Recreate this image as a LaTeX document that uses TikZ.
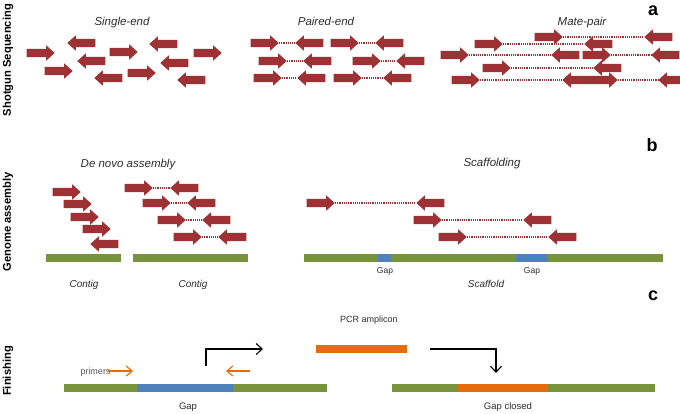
\documentclass[tikz,border=0pt]{standalone}
\usepackage{fontspec}
\setmainfont{Liberation Sans}
\usetikzlibrary{shapes.arrows,arrows.meta}
\definecolor{ared}{HTML}{9E3133}
\definecolor{bgreen}{HTML}{77933C}
\definecolor{bblue}{HTML}{4F81BD}
\definecolor{borange}{HTML}{E46C0A}
\definecolor{tgray}{HTML}{2E2E2E}
\begin{document}
\begin{tikzpicture}[x=1pt,y=-1pt,
  fwd/.style={single arrow, fill=ared, draw=none, minimum height=28pt, minimum width=15pt,
    inner xsep=0pt, inner ysep=4pt, single arrow head extend=3.5pt,
    single arrow tip angle=84, anchor=tip},
  rev/.style={fwd, shape border rotate=180},
  dotline/.style={ared, line width=1.2pt, dash pattern=on 1.2pt off 1pt},
  capt/.style={font=\itshape\fontsize{11.5}{13}\selectfont, text=tgray, inner sep=0pt, anchor=base},
  lblsmall/.style={font=\fontsize{9.5}{11}\selectfont, text=tgray, inner sep=0pt, anchor=base},
  lbltiny/.style={font=\fontsize{8.5}{10}\selectfont, text=tgray, inner sep=0pt, anchor=base},
  panelletter/.style={font=\bfseries\fontsize{18}{20}\selectfont, inner sep=0pt, anchor=base},
  sidelabel/.style={font=\bfseries\fontsize{11.2}{13}\selectfont, rotate=90, inner sep=0pt},
  elbow/.style={line width=1.1pt, -{Straight Barb[length=6pt,width=11pt]}},
  primer/.style={borange, line width=1.1pt, -{Straight Barb[length=6pt,width=10pt]}},
]
\clip (0,0) rectangle (680,413);
\fill[white] (0,0) rectangle (680,413);

% side labels
\node[sidelabel] (ls) at (8,60) {Shotgun Sequencing};
\node[sidelabel] (lg) at (8,222) {Genome assembly};
\node[sidelabel] (lf) at (8,371) {Finishing};

% panel letters
\node[panelletter] (la) at (653,15) {a};
\node[panelletter] (lb) at (652,151) {b};
\node[panelletter] (lc) at (653,300) {c};

% ---------- a: shotgun sequencing ----------
\node[capt] (tse) at (122,25) {Single-end};
\node[capt] (tpe) at (326,25) {Paired-end};
\node[capt] (tmp) at (582,25) {Mate-pair};

% single-end
\node[fwd] (s1) at (55,53) {};
\node[fwd] (s2) at (73,71) {};
\node[fwd] (s3) at (138,52) {};
\node[fwd] (s4) at (156,73) {};
\node[fwd] (s5) at (222,53) {};
\node[rev] (s6) at (67,43) {};
\node[rev] (s7) at (77,61) {};
\node[rev] (s8) at (94,78) {};
\node[rev] (s9) at (149,44) {};
\node[rev] (s10) at (160,63) {};
\node[rev] (s11) at (177,80) {};

% paired-end
\node[fwd] (p1a) at (279,43) {}; \node[rev] (p1b) at (295,43) {};
\node[fwd] (p2a) at (359,43) {}; \node[rev] (p2b) at (375,43) {};
\node[fwd] (p3a) at (287,61) {}; \node[rev] (p3b) at (303,61) {};
\node[fwd] (p4a) at (381,61) {}; \node[rev] (p4b) at (396,61) {};
\node[fwd] (p5a) at (282,78) {}; \node[rev] (p5b) at (297,78) {};
\node[fwd] (p6a) at (362,78) {}; \node[rev] (p6b) at (383,78) {};
\foreach \i in {1,...,6} \draw[dotline] (p\i a.tip) -- (p\i b.tip);

% mate-pair
\node[fwd] (m1a) at (563,37) {}; \node[rev] (m1b) at (644,37) {};
\draw[dotline] (m1a.tip) -- (m1b.tip);
\node[fwd] (m2a) at (503,44) {}; \node[rev] (m2b) at (584,44) {};
\draw[dotline] (m2a.tip) -- (m2b.tip);
\node[fwd] (m3a) at (469,55) {}; \node[rev] (m3b) at (551,55) {};
\draw[dotline] (m3a.tip) -- (m3b.tip);
\node[fwd] (m4a) at (611,55) {}; \node[rev] (m4b) at (651,55) {};
\draw[dotline] (m4a.tip) -- (m4b.tip);
\node[fwd] (m5a) at (511,68) {}; \node[rev] (m5b) at (593,68) {};
\draw[dotline] (m5a.tip) -- (m5b.tip);
\node[fwd] (m6a) at (480,80) {}; \node[rev] (m6b) at (562,80) {};
\draw[dotline] (m6a.tip) -- (m6b.tip);
\node[fwd] (m7a) at (618,80) {}; \node[rev] (m7b) at (658,80) {};
\draw[dotline] (m7a.tip) -- (m7b.tip);

% ---------- b: genome assembly ----------
\node[capt] (tdn) at (128,167) {De novo assembly};
\node[capt] (tsc) at (492,166) {Scaffolding};

\node[fwd] (d1) at (81,192) {};
\node[fwd] (d2) at (92,204) {};
\node[fwd] (d3) at (99,217) {};
\node[fwd] (d4) at (111,229) {};
\node[rev] (d5) at (90,244) {};

\node[fwd] (q1a) at (153,188) {}; \node[rev] (q1b) at (170,188) {};
\node[fwd] (q2a) at (171,203) {}; \node[rev] (q2b) at (187,203) {};
\node[fwd] (q3a) at (186,220) {}; \node[rev] (q3b) at (202,220) {};
\node[fwd] (q4a) at (202,237) {}; \node[rev] (q4b) at (218,237) {};
\foreach \i in {1,...,4} \draw[dotline] (q\i a.tip) -- (q\i b.tip);

\node[fwd] (f1a) at (335,203) {}; \node[rev] (f1b) at (416,203) {};
\node[fwd] (f2a) at (442,220) {}; \node[rev] (f2b) at (523,220) {};
\node[fwd] (f3a) at (467,237) {}; \node[rev] (f3b) at (548,237) {};
\foreach \i in {1,2,3} \draw[dotline] (f\i a.tip) -- (f\i b.tip);

% contigs and scaffold
\fill[bgreen] (46,254) rectangle (121,262);
\fill[bgreen] (133,254) rectangle (248,262);
\fill[bgreen] (304,254) rectangle (663,262);
\fill[bblue] (378,254) rectangle (391,262);
\fill[bblue] (516,254) rectangle (548,262);

\node[lbltiny] (g1) at (385,273) {Gap};
\node[lbltiny] (g2) at (532,273) {Gap};
\node[capt, font=\itshape\fontsize{10}{12}\selectfont] (c1) at (84,287) {Contig};
\node[capt, font=\itshape\fontsize{10}{12}\selectfont] (c2) at (193,287) {Contig};
\node[capt, font=\itshape\fontsize{10}{12}\selectfont] (sf) at (486,287) {Scaffold};

% ---------- c: finishing ----------
\node[lbltiny, font=\fontsize{9}{11}\selectfont] (pcr) at (369,322) {PCR amplicon};
\fill[borange] (316,345) rectangle (407,353);

\fill[bgreen] (64,384) rectangle (137,392);
\fill[bblue] (137,384) rectangle (233,392);
\fill[bgreen] (233,384) rectangle (327,392);

\fill[bgreen] (392,384) rectangle (457,392);
\fill[borange] (457,384) rectangle (548,392);
\fill[bgreen] (548,384) rectangle (655,392);

\node[lbltiny, font=\fontsize{9}{11}\selectfont, text=black!65] (pr) at (95.5,374) {primers};
\coordinate (pa1) at (108,371);
\coordinate (pa2) at (133,371);
\coordinate (pb1) at (250,371);
\coordinate (pb2) at (226,371);
\draw[primer] (pa1) -- (pa2);
\draw[primer] (pb1) -- (pb2);

\coordinate (k1) at (206,366);
\coordinate (k2) at (263,349);
\draw[elbow] (k1) |- (k2);
\coordinate (k3) at (430,349);
\coordinate (k4) at (496,373);
\draw[elbow] (k3) -| (k4);

\node[lblsmall] (gp) at (188,409) {Gap};
\node[lblsmall] (gc) at (508,409) {Gap closed};
\end{tikzpicture}
\end{document}
